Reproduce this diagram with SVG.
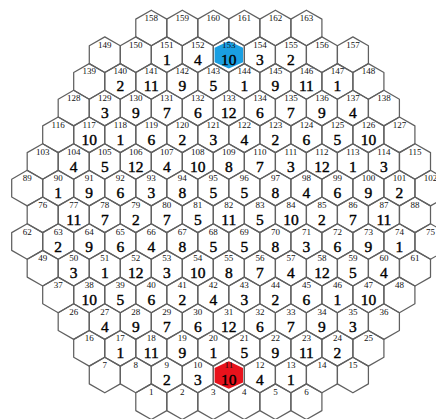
<svg xmlns="http://www.w3.org/2000/svg" xmlns:xlink="http://www.w3.org/1999/xlink" width="436" height="419" viewBox="0 0 436 419">
<style>
.hx{fill:none;stroke:#606060;stroke-width:1.25;stroke-linejoin:round}
.l{font-family:"Liberation Serif","Times New Roman",serif;font-size:9px;text-anchor:middle;fill:#111}
.n{font-family:"Liberation Serif","Times New Roman",serif;font-size:15.5px;text-anchor:middle;fill:#000;stroke:#000;stroke-width:0.4}
.blue{fill:#1a9fe2}
.red{fill:#e8121c}
</style>
<defs>
<polygon id="hx" class="hx" points="0,-17.8 15.51,-8.9 15.51,8.9 0,17.8 -15.51,8.9 -15.51,-8.9"/>
<polygon id="ins" points="0,-13.8 14.2,-7 14.2,7.5 0,13.8 -14.2,7.5 -14.2,-7"/>
</defs>
<rect width="436" height="419" fill="#fff"/>
<g id="connectors"/>
<g id="nodes">
<!-- row 0 -->
<g id="n158" transform="translate(151.3,28)"><use href="#hx"/><text class="l" y="-7">158</text></g>
<g id="n159" transform="translate(182.3,28)"><use href="#hx"/><text class="l" y="-7">159</text></g>
<g id="n160" transform="translate(213.3,28)"><use href="#hx"/><text class="l" y="-7">160</text></g>
<g id="n161" transform="translate(244.3,28)"><use href="#hx"/><text class="l" y="-7">161</text></g>
<g id="n162" transform="translate(275.4,28)"><use href="#hx"/><text class="l" y="-7">162</text></g>
<g id="n163" transform="translate(306.4,28)"><use href="#hx"/><text class="l" y="-7">163</text></g>
<!-- row 1 -->
<g id="n149" transform="translate(104.8,54.7)"><use href="#hx"/><text class="l" y="-7">149</text></g>
<g id="n150" transform="translate(135.8,54.7)"><use href="#hx"/><text class="l" y="-7">150</text></g>
<g id="n151" transform="translate(166.8,54.7)"><use href="#hx"/><text class="l" y="-7">151</text><text class="n" y="10">1</text></g>
<g id="n152" transform="translate(197.8,54.7)"><use href="#hx"/><text class="l" y="-7">152</text><text class="n" y="10">4</text></g>
<g id="n153" transform="translate(228.8,54.7)"><use href="#hx"/><use href="#ins" class="blue"/><text class="l" y="-7">153</text><text class="n" y="10">10</text></g>
<g id="n154" transform="translate(259.9,54.7)"><use href="#hx"/><text class="l" y="-7">154</text><text class="n" y="10">3</text></g>
<g id="n155" transform="translate(290.9,54.7)"><use href="#hx"/><text class="l" y="-7">155</text><text class="n" y="10">2</text></g>
<g id="n156" transform="translate(321.9,54.7)"><use href="#hx"/><text class="l" y="-7">156</text></g>
<g id="n157" transform="translate(352.9,54.7)"><use href="#hx"/><text class="l" y="-7">157</text></g>
<!-- row 2 -->
<g id="n139" transform="translate(89.2,81.4)"><use href="#hx"/><text class="l" y="-7">139</text></g>
<g id="n140" transform="translate(120.3,81.4)"><use href="#hx"/><text class="l" y="-7">140</text><text class="n" y="10">2</text></g>
<g id="n141" transform="translate(151.3,81.4)"><use href="#hx"/><text class="l" y="-7">141</text><text class="n" y="10">11</text></g>
<g id="n142" transform="translate(182.3,81.4)"><use href="#hx"/><text class="l" y="-7">142</text><text class="n" y="10">9</text></g>
<g id="n143" transform="translate(213.3,81.4)"><use href="#hx"/><text class="l" y="-7">143</text><text class="n" y="10">5</text></g>
<g id="n144" transform="translate(244.3,81.4)"><use href="#hx"/><text class="l" y="-7">144</text><text class="n" y="10">1</text></g>
<g id="n145" transform="translate(275.4,81.4)"><use href="#hx"/><text class="l" y="-7">145</text><text class="n" y="10">9</text></g>
<g id="n146" transform="translate(306.4,81.4)"><use href="#hx"/><text class="l" y="-7">146</text><text class="n" y="10">11</text></g>
<g id="n147" transform="translate(337.4,81.4)"><use href="#hx"/><text class="l" y="-7">147</text><text class="n" y="10">1</text></g>
<g id="n148" transform="translate(368.4,81.4)"><use href="#hx"/><text class="l" y="-7">148</text></g>
<!-- row 3 -->
<g id="n128" transform="translate(73.7,108.1)"><use href="#hx"/><text class="l" y="-7">128</text></g>
<g id="n129" transform="translate(104.8,108.1)"><use href="#hx"/><text class="l" y="-7">129</text><text class="n" y="10">3</text></g>
<g id="n130" transform="translate(135.8,108.1)"><use href="#hx"/><text class="l" y="-7">130</text><text class="n" y="10">9</text></g>
<g id="n131" transform="translate(166.8,108.1)"><use href="#hx"/><text class="l" y="-7">131</text><text class="n" y="10">7</text></g>
<g id="n132" transform="translate(197.8,108.1)"><use href="#hx"/><text class="l" y="-7">132</text><text class="n" y="10">6</text></g>
<g id="n133" transform="translate(228.8,108.1)"><use href="#hx"/><text class="l" y="-7">133</text><text class="n" y="10">12</text></g>
<g id="n134" transform="translate(259.9,108.1)"><use href="#hx"/><text class="l" y="-7">134</text><text class="n" y="10">6</text></g>
<g id="n135" transform="translate(290.9,108.1)"><use href="#hx"/><text class="l" y="-7">135</text><text class="n" y="10">7</text></g>
<g id="n136" transform="translate(321.9,108.1)"><use href="#hx"/><text class="l" y="-7">136</text><text class="n" y="10">9</text></g>
<g id="n137" transform="translate(352.9,108.1)"><use href="#hx"/><text class="l" y="-7">137</text><text class="n" y="10">4</text></g>
<g id="n138" transform="translate(383.9,108.1)"><use href="#hx"/><text class="l" y="-7">138</text></g>
<!-- row 4 -->
<g id="n116" transform="translate(58.2,134.8)"><use href="#hx"/><text class="l" y="-7">116</text></g>
<g id="n117" transform="translate(89.2,134.8)"><use href="#hx"/><text class="l" y="-7">117</text><text class="n" y="10">10</text></g>
<g id="n118" transform="translate(120.3,134.8)"><use href="#hx"/><text class="l" y="-7">118</text><text class="n" y="10">1</text></g>
<g id="n119" transform="translate(151.3,134.8)"><use href="#hx"/><text class="l" y="-7">119</text><text class="n" y="10">6</text></g>
<g id="n120" transform="translate(182.3,134.8)"><use href="#hx"/><text class="l" y="-7">120</text><text class="n" y="10">2</text></g>
<g id="n121" transform="translate(213.3,134.8)"><use href="#hx"/><text class="l" y="-7">121</text><text class="n" y="10">3</text></g>
<g id="n122" transform="translate(244.3,134.8)"><use href="#hx"/><text class="l" y="-7">122</text><text class="n" y="10">4</text></g>
<g id="n123" transform="translate(275.4,134.8)"><use href="#hx"/><text class="l" y="-7">123</text><text class="n" y="10">2</text></g>
<g id="n124" transform="translate(306.4,134.8)"><use href="#hx"/><text class="l" y="-7">124</text><text class="n" y="10">6</text></g>
<g id="n125" transform="translate(337.4,134.8)"><use href="#hx"/><text class="l" y="-7">125</text><text class="n" y="10">5</text></g>
<g id="n126" transform="translate(368.4,134.8)"><use href="#hx"/><text class="l" y="-7">126</text><text class="n" y="10">10</text></g>
<g id="n127" transform="translate(399.4,134.8)"><use href="#hx"/><text class="l" y="-7">127</text></g>
<!-- row 5 -->
<g id="n103" transform="translate(42.7,161.5)"><use href="#hx"/><text class="l" y="-7">103</text></g>
<g id="n104" transform="translate(73.7,161.5)"><use href="#hx"/><text class="l" y="-7">104</text><text class="n" y="10">4</text></g>
<g id="n105" transform="translate(104.8,161.5)"><use href="#hx"/><text class="l" y="-7">105</text><text class="n" y="10">5</text></g>
<g id="n106" transform="translate(135.8,161.5)"><use href="#hx"/><text class="l" y="-7">106</text><text class="n" y="10">12</text></g>
<g id="n107" transform="translate(166.8,161.5)"><use href="#hx"/><text class="l" y="-7">107</text><text class="n" y="10">4</text></g>
<g id="n108" transform="translate(197.8,161.5)"><use href="#hx"/><text class="l" y="-7">108</text><text class="n" y="10">10</text></g>
<g id="n109" transform="translate(228.8,161.5)"><use href="#hx"/><text class="l" y="-7">109</text><text class="n" y="10">8</text></g>
<g id="n110" transform="translate(259.9,161.5)"><use href="#hx"/><text class="l" y="-7">110</text><text class="n" y="10">7</text></g>
<g id="n111" transform="translate(290.9,161.5)"><use href="#hx"/><text class="l" y="-7">111</text><text class="n" y="10">3</text></g>
<g id="n112" transform="translate(321.9,161.5)"><use href="#hx"/><text class="l" y="-7">112</text><text class="n" y="10">12</text></g>
<g id="n113" transform="translate(352.9,161.5)"><use href="#hx"/><text class="l" y="-7">113</text><text class="n" y="10">1</text></g>
<g id="n114" transform="translate(383.9,161.5)"><use href="#hx"/><text class="l" y="-7">114</text><text class="n" y="10">3</text></g>
<g id="n115" transform="translate(415,161.5)"><use href="#hx"/><text class="l" y="-7">115</text></g>
<!-- row 6 -->
<g id="n89" transform="translate(27.2,188.1)"><use href="#hx"/><text class="l" y="-7">89</text></g>
<g id="n90" transform="translate(58.2,188.1)"><use href="#hx"/><text class="l" y="-7">90</text><text class="n" y="10">1</text></g>
<g id="n91" transform="translate(89.2,188.1)"><use href="#hx"/><text class="l" y="-7">91</text><text class="n" y="10">9</text></g>
<g id="n92" transform="translate(120.3,188.1)"><use href="#hx"/><text class="l" y="-7">92</text><text class="n" y="10">6</text></g>
<g id="n93" transform="translate(151.3,188.1)"><use href="#hx"/><text class="l" y="-7">93</text><text class="n" y="10">3</text></g>
<g id="n94" transform="translate(182.3,188.1)"><use href="#hx"/><text class="l" y="-7">94</text><text class="n" y="10">8</text></g>
<g id="n95" transform="translate(213.3,188.1)"><use href="#hx"/><text class="l" y="-7">95</text><text class="n" y="10">5</text></g>
<g id="n96" transform="translate(244.3,188.1)"><use href="#hx"/><text class="l" y="-7">96</text><text class="n" y="10">5</text></g>
<g id="n97" transform="translate(275.4,188.1)"><use href="#hx"/><text class="l" y="-7">97</text><text class="n" y="10">8</text></g>
<g id="n98" transform="translate(306.4,188.1)"><use href="#hx"/><text class="l" y="-7">98</text><text class="n" y="10">4</text></g>
<g id="n99" transform="translate(337.4,188.1)"><use href="#hx"/><text class="l" y="-7">99</text><text class="n" y="10">6</text></g>
<g id="n100" transform="translate(368.4,188.1)"><use href="#hx"/><text class="l" y="-7">100</text><text class="n" y="10">9</text></g>
<g id="n101" transform="translate(399.4,188.1)"><use href="#hx"/><text class="l" y="-7">101</text><text class="n" y="10">2</text></g>
<g id="n102" transform="translate(430.5,188.1)"><use href="#hx"/><text class="l" y="-7">102</text></g>
<!-- row 7 -->
<g id="n76" transform="translate(42.7,214.8)"><use href="#hx"/><text class="l" y="-7">76</text></g>
<g id="n77" transform="translate(73.7,214.8)"><use href="#hx"/><text class="l" y="-7">77</text><text class="n" y="10">11</text></g>
<g id="n78" transform="translate(104.8,214.8)"><use href="#hx"/><text class="l" y="-7">78</text><text class="n" y="10">7</text></g>
<g id="n79" transform="translate(135.8,214.8)"><use href="#hx"/><text class="l" y="-7">79</text><text class="n" y="10">2</text></g>
<g id="n80" transform="translate(166.8,214.8)"><use href="#hx"/><text class="l" y="-7">80</text><text class="n" y="10">7</text></g>
<g id="n81" transform="translate(197.8,214.8)"><use href="#hx"/><text class="l" y="-7">81</text><text class="n" y="10">5</text></g>
<g id="n82" transform="translate(228.8,214.8)"><use href="#hx"/><text class="l" y="-7">82</text><text class="n" y="10">11</text></g>
<g id="n83" transform="translate(259.9,214.8)"><use href="#hx"/><text class="l" y="-7">83</text><text class="n" y="10">5</text></g>
<g id="n84" transform="translate(290.9,214.8)"><use href="#hx"/><text class="l" y="-7">84</text><text class="n" y="10">10</text></g>
<g id="n85" transform="translate(321.9,214.8)"><use href="#hx"/><text class="l" y="-7">85</text><text class="n" y="10">2</text></g>
<g id="n86" transform="translate(352.9,214.8)"><use href="#hx"/><text class="l" y="-7">86</text><text class="n" y="10">7</text></g>
<g id="n87" transform="translate(383.9,214.8)"><use href="#hx"/><text class="l" y="-7">87</text><text class="n" y="10">11</text></g>
<g id="n88" transform="translate(415,214.8)"><use href="#hx"/><text class="l" y="-7">88</text></g>
<!-- row 8 -->
<g id="n62" transform="translate(27.2,241.5)"><use href="#hx"/><text class="l" y="-7">62</text></g>
<g id="n63" transform="translate(58.2,241.5)"><use href="#hx"/><text class="l" y="-7">63</text><text class="n" y="10">2</text></g>
<g id="n64" transform="translate(89.2,241.5)"><use href="#hx"/><text class="l" y="-7">64</text><text class="n" y="10">9</text></g>
<g id="n65" transform="translate(120.3,241.5)"><use href="#hx"/><text class="l" y="-7">65</text><text class="n" y="10">6</text></g>
<g id="n66" transform="translate(151.3,241.5)"><use href="#hx"/><text class="l" y="-7">66</text><text class="n" y="10">4</text></g>
<g id="n67" transform="translate(182.3,241.5)"><use href="#hx"/><text class="l" y="-7">67</text><text class="n" y="10">8</text></g>
<g id="n68" transform="translate(213.3,241.5)"><use href="#hx"/><text class="l" y="-7">68</text><text class="n" y="10">5</text></g>
<g id="n69" transform="translate(244.3,241.5)"><use href="#hx"/><text class="l" y="-7">69</text><text class="n" y="10">5</text></g>
<g id="n70" transform="translate(275.4,241.5)"><use href="#hx"/><text class="l" y="-7">70</text><text class="n" y="10">8</text></g>
<g id="n71" transform="translate(306.4,241.5)"><use href="#hx"/><text class="l" y="-7">71</text><text class="n" y="10">3</text></g>
<g id="n72" transform="translate(337.4,241.5)"><use href="#hx"/><text class="l" y="-7">72</text><text class="n" y="10">6</text></g>
<g id="n73" transform="translate(368.4,241.5)"><use href="#hx"/><text class="l" y="-7">73</text><text class="n" y="10">9</text></g>
<g id="n74" transform="translate(399.4,241.5)"><use href="#hx"/><text class="l" y="-7">74</text><text class="n" y="10">1</text></g>
<g id="n75" transform="translate(430.5,241.5)"><use href="#hx"/><text class="l" y="-7">75</text></g>
<!-- row 9 -->
<g id="n49" transform="translate(42.7,268.2)"><use href="#hx"/><text class="l" y="-7">49</text></g>
<g id="n50" transform="translate(73.7,268.2)"><use href="#hx"/><text class="l" y="-7">50</text><text class="n" y="10">3</text></g>
<g id="n51" transform="translate(104.8,268.2)"><use href="#hx"/><text class="l" y="-7">51</text><text class="n" y="10">1</text></g>
<g id="n52" transform="translate(135.8,268.2)"><use href="#hx"/><text class="l" y="-7">52</text><text class="n" y="10">12</text></g>
<g id="n53" transform="translate(166.8,268.2)"><use href="#hx"/><text class="l" y="-7">53</text><text class="n" y="10">3</text></g>
<g id="n54" transform="translate(197.8,268.2)"><use href="#hx"/><text class="l" y="-7">54</text><text class="n" y="10">10</text></g>
<g id="n55" transform="translate(228.8,268.2)"><use href="#hx"/><text class="l" y="-7">55</text><text class="n" y="10">8</text></g>
<g id="n56" transform="translate(259.9,268.2)"><use href="#hx"/><text class="l" y="-7">56</text><text class="n" y="10">7</text></g>
<g id="n57" transform="translate(290.9,268.2)"><use href="#hx"/><text class="l" y="-7">57</text><text class="n" y="10">4</text></g>
<g id="n58" transform="translate(321.9,268.2)"><use href="#hx"/><text class="l" y="-7">58</text><text class="n" y="10">12</text></g>
<g id="n59" transform="translate(352.9,268.2)"><use href="#hx"/><text class="l" y="-7">59</text><text class="n" y="10">5</text></g>
<g id="n60" transform="translate(383.9,268.2)"><use href="#hx"/><text class="l" y="-7">60</text><text class="n" y="10">4</text></g>
<g id="n61" transform="translate(415,268.2)"><use href="#hx"/><text class="l" y="-7">61</text></g>
<!-- row 10 -->
<g id="n37" transform="translate(58.2,294.9)"><use href="#hx"/><text class="l" y="-7">37</text></g>
<g id="n38" transform="translate(89.2,294.9)"><use href="#hx"/><text class="l" y="-7">38</text><text class="n" y="10">10</text></g>
<g id="n39" transform="translate(120.3,294.9)"><use href="#hx"/><text class="l" y="-7">39</text><text class="n" y="10">5</text></g>
<g id="n40" transform="translate(151.3,294.9)"><use href="#hx"/><text class="l" y="-7">40</text><text class="n" y="10">6</text></g>
<g id="n41" transform="translate(182.3,294.9)"><use href="#hx"/><text class="l" y="-7">41</text><text class="n" y="10">2</text></g>
<g id="n42" transform="translate(213.3,294.9)"><use href="#hx"/><text class="l" y="-7">42</text><text class="n" y="10">4</text></g>
<g id="n43" transform="translate(244.3,294.9)"><use href="#hx"/><text class="l" y="-7">43</text><text class="n" y="10">3</text></g>
<g id="n44" transform="translate(275.4,294.9)"><use href="#hx"/><text class="l" y="-7">44</text><text class="n" y="10">2</text></g>
<g id="n45" transform="translate(306.4,294.9)"><use href="#hx"/><text class="l" y="-7">45</text><text class="n" y="10">6</text></g>
<g id="n46" transform="translate(337.4,294.9)"><use href="#hx"/><text class="l" y="-7">46</text><text class="n" y="10">1</text></g>
<g id="n47" transform="translate(368.4,294.9)"><use href="#hx"/><text class="l" y="-7">47</text><text class="n" y="10">10</text></g>
<g id="n48" transform="translate(399.4,294.9)"><use href="#hx"/><text class="l" y="-7">48</text></g>
<!-- row 11 -->
<g id="n26" transform="translate(73.7,321.6)"><use href="#hx"/><text class="l" y="-7">26</text></g>
<g id="n27" transform="translate(104.8,321.6)"><use href="#hx"/><text class="l" y="-7">27</text><text class="n" y="10">4</text></g>
<g id="n28" transform="translate(135.8,321.6)"><use href="#hx"/><text class="l" y="-7">28</text><text class="n" y="10">9</text></g>
<g id="n29" transform="translate(166.8,321.6)"><use href="#hx"/><text class="l" y="-7">29</text><text class="n" y="10">7</text></g>
<g id="n30" transform="translate(197.8,321.6)"><use href="#hx"/><text class="l" y="-7">30</text><text class="n" y="10">6</text></g>
<g id="n31" transform="translate(228.8,321.6)"><use href="#hx"/><text class="l" y="-7">31</text><text class="n" y="10">12</text></g>
<g id="n32" transform="translate(259.9,321.6)"><use href="#hx"/><text class="l" y="-7">32</text><text class="n" y="10">6</text></g>
<g id="n33" transform="translate(290.9,321.6)"><use href="#hx"/><text class="l" y="-7">33</text><text class="n" y="10">7</text></g>
<g id="n34" transform="translate(321.9,321.6)"><use href="#hx"/><text class="l" y="-7">34</text><text class="n" y="10">9</text></g>
<g id="n35" transform="translate(352.9,321.6)"><use href="#hx"/><text class="l" y="-7">35</text><text class="n" y="10">3</text></g>
<g id="n36" transform="translate(383.9,321.6)"><use href="#hx"/><text class="l" y="-7">36</text></g>
<!-- row 12 -->
<g id="n16" transform="translate(89.2,348.3)"><use href="#hx"/><text class="l" y="-7">16</text></g>
<g id="n17" transform="translate(120.3,348.3)"><use href="#hx"/><text class="l" y="-7">17</text><text class="n" y="10">1</text></g>
<g id="n18" transform="translate(151.3,348.3)"><use href="#hx"/><text class="l" y="-7">18</text><text class="n" y="10">11</text></g>
<g id="n19" transform="translate(182.3,348.3)"><use href="#hx"/><text class="l" y="-7">19</text><text class="n" y="10">9</text></g>
<g id="n20" transform="translate(213.3,348.3)"><use href="#hx"/><text class="l" y="-7">20</text><text class="n" y="10">1</text></g>
<g id="n21" transform="translate(244.3,348.3)"><use href="#hx"/><text class="l" y="-7">21</text><text class="n" y="10">5</text></g>
<g id="n22" transform="translate(275.4,348.3)"><use href="#hx"/><text class="l" y="-7">22</text><text class="n" y="10">9</text></g>
<g id="n23" transform="translate(306.4,348.3)"><use href="#hx"/><text class="l" y="-7">23</text><text class="n" y="10">11</text></g>
<g id="n24" transform="translate(337.4,348.3)"><use href="#hx"/><text class="l" y="-7">24</text><text class="n" y="10">2</text></g>
<g id="n25" transform="translate(368.4,348.3)"><use href="#hx"/><text class="l" y="-7">25</text></g>
<!-- row 13 -->
<g id="n7" transform="translate(104.8,375)"><use href="#hx"/><text class="l" y="-7">7</text></g>
<g id="n8" transform="translate(135.8,375)"><use href="#hx"/><text class="l" y="-7">8</text></g>
<g id="n9" transform="translate(166.8,375)"><use href="#hx"/><text class="l" y="-7">9</text><text class="n" y="10">2</text></g>
<g id="n10" transform="translate(197.8,375)"><use href="#hx"/><text class="l" y="-7">10</text><text class="n" y="10">3</text></g>
<g id="n11" transform="translate(228.8,375)"><use href="#hx"/><use href="#ins" class="red"/><text class="l" y="-7">11</text><text class="n" y="10">10</text></g>
<g id="n12" transform="translate(259.9,375)"><use href="#hx"/><text class="l" y="-7">12</text><text class="n" y="10">4</text></g>
<g id="n13" transform="translate(290.9,375)"><use href="#hx"/><text class="l" y="-7">13</text><text class="n" y="10">1</text></g>
<g id="n14" transform="translate(321.9,375)"><use href="#hx"/><text class="l" y="-7">14</text></g>
<g id="n15" transform="translate(352.9,375)"><use href="#hx"/><text class="l" y="-7">15</text></g>
<!-- row 14 -->
<g id="n1" transform="translate(151.3,401.7)"><use href="#hx"/><text class="l" y="-7">1</text></g>
<g id="n2" transform="translate(182.3,401.7)"><use href="#hx"/><text class="l" y="-7">2</text></g>
<g id="n3" transform="translate(213.3,401.7)"><use href="#hx"/><text class="l" y="-7">3</text></g>
<g id="n4" transform="translate(244.3,401.7)"><use href="#hx"/><text class="l" y="-7">4</text></g>
<g id="n5" transform="translate(275.4,401.7)"><use href="#hx"/><text class="l" y="-7">5</text></g>
<g id="n6" transform="translate(306.4,401.7)"><use href="#hx"/><text class="l" y="-7">6</text></g>
</g>
</svg>
